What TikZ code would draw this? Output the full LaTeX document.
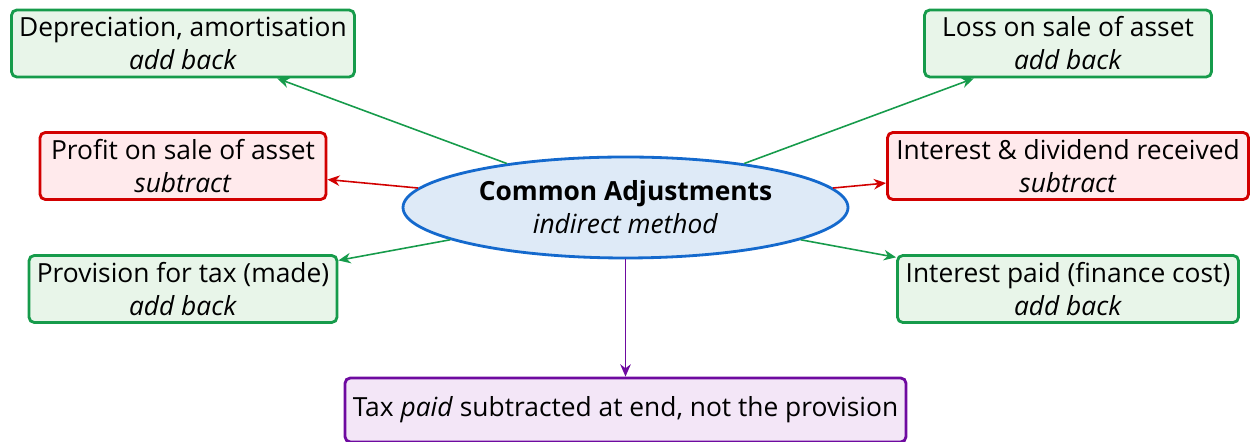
\documentclass[tikz,border=0pt]{standalone}
\usepackage{fontspec}
\setmainfont{Open Sans}
\usetikzlibrary{shapes.geometric,arrows.meta}

\definecolor{addline}{RGB}{22,155,75}
\definecolor{addfill}{RGB}{232,245,233}
\definecolor{subline}{RGB}{210,0,0}
\definecolor{subfill}{RGB}{255,234,236}
\definecolor{hubline}{RGB}{20,105,205}
\definecolor{hubfill}{RGB}{222,234,247}
\definecolor{taxline}{RGB}{110,10,160}
\definecolor{taxfill}{RGB}{243,230,247}

\tikzset{
	item/.style={draw, line width=1.6pt, rounded corners=3pt, align=center,
		minimum height=1.34cm, inner sep=2pt, font=\fontsize{15}{18.8}\selectfont},
	addbox/.style={item, draw=addline, fill=addfill},
	subbox/.style={item, draw=subline, fill=subfill},
	hub/.style={draw=hubline, fill=hubfill, line width=1.6pt, ellipse, align=center,
		minimum width=8.9cm, minimum height=2.02cm, inner sep=0pt,
		font=\fontsize{15}{18.8}\selectfont},
	taxbox/.style={item, draw=taxline, fill=taxfill, minimum height=1.28cm},
	addarrow/.style={-{Stealth[length=7pt,width=6pt]}, addline, line width=0.9pt},
	subarrow/.style={-{Stealth[length=7pt,width=6pt]}, subline, line width=0.9pt},
	taxarrow/.style={-{Stealth[length=7pt,width=6pt]}, taxline, line width=0.9pt}
}

\begin{document}
\begin{tikzpicture}
	\useasboundingbox (0,0) rectangle (25.02,8.84);

	\node[hub] (adj) at (12.51,4.69) {\textbf{Common Adjustments}\\\textit{indirect method}};

	\node[addbox, minimum width=6.86cm] (dep) at (3.66,7.97) {Depreciation, amortisation\\\textit{add back}};
	\node[addbox, minimum width=5.74cm] (loss) at (21.36,7.97) {Loss on sale of asset\\\textit{add back}};
	\node[subbox, minimum width=5.72cm] (profit) at (3.66,5.52) {Profit on sale of asset\\\textit{subtract}};
	\node[subbox, minimum width=7.22cm] (intrec) at (21.36,5.52) {Interest \& dividend received\\\textit{subtract}};
	\node[addbox, minimum width=6.16cm] (prov) at (3.66,3.06) {Provision for tax (made)\\\textit{add back}};
	\node[addbox, minimum width=6.82cm] (intpaid) at (21.36,3.06) {Interest paid (finance cost)\\\textit{add back}};

	\node[taxbox, minimum width=11.22cm] (tax) at (12.51,0.64) {Tax \textit{paid} subtracted at end, not the provision};

	\draw[addarrow] (adj) -- (dep);
	\draw[addarrow] (adj) -- (loss);
	\draw[subarrow] (adj) -- (profit);
	\draw[subarrow] (adj) -- (intrec);
	\draw[addarrow] (adj) -- (prov);
	\draw[addarrow] (adj) -- (intpaid);

	\draw[taxarrow] (adj) -- (tax);
\end{tikzpicture}
\end{document}
